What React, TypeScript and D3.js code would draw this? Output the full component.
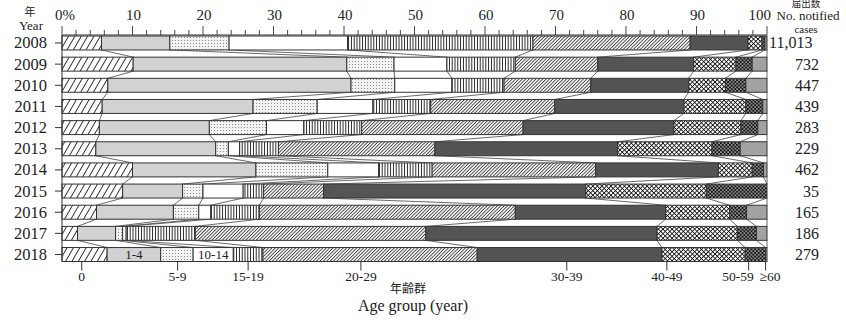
import * as d3 from 'd3';

// notified cases by age group, share (%) per year
const years = ['2008', '2009', '2010', '2011', '2012', '2013', '2014', '2015', '2016', '2017', '2018'];
const cases = ['11,013', '732', '447', '439', '283', '229', '462', '35', '165', '186', '279'];
const ageGroups = ['0', '1-4', '5-9', '10-14', '15-19', '20-29', '30-39', '40-49', '50-59', '≥60'];

const age0 = [5.6, 10.1, 6.5, 5.7, 5.3, 4.8, 10.0, 8.6, 4.9, 2.2, 6.4];
const age1to4 = [9.7, 30.3, 34.5, 21.4, 15.6, 17.0, 17.5, 8.5, 10.9, 5.4, 7.6];
const age5to9 = [8.4, 6.7, 6.2, 9.1, 8.1, 1.8, 10.2, 2.9, 3.6, 1.0, 4.6];
const age10to14 = [16.8, 7.5, 8.1, 7.9, 5.3, 1.6, 7.2, 5.7, 1.7, 0.5, 5.7];
const age15to19 = [26.3, 9.7, 7.4, 8.2, 8.2, 5.5, 7.6, 2.9, 6.9, 9.8, 4.2];
const age20to29 = [22.3, 11.7, 12.3, 17.6, 22.9, 22.2, 23.2, 8.5, 36.3, 32.7, 30.4];
const age30to39 = [8.2, 13.6, 13.9, 18.3, 21.4, 25.9, 17.4, 37.2, 21.3, 32.8, 26.2];
const age40to49 = [2.0, 6.0, 5.2, 8.8, 9.5, 13.4, 4.8, 17.1, 9.1, 11.4, 11.8];
const age50to59 = [0.4, 2.3, 2.9, 2.4, 2.4, 4.0, 1.6, 8.6, 2.4, 2.7, 2.9];
const age60plus = [0.3, 2.1, 3.0, 0.6, 1.3, 3.8, 0.5, 0, 2.9, 1.5, 0.2];

const series = [age0, age1to4, age5to9, age10to14, age15to19, age20to29, age30to39, age40to49, age50to59, age60plus];

// bottom axis: age group labels and where their ticks sit (%)
const groupTickLabels = ['0', '5-9', '15-19', '20-29', '30-39', '40-49', '50-59', '≥60'];
const groupTickValues = [2.8, 16.4, 26.4, 42.4, 71.6, 85.8, 97.4, 99.8];
// labels written inside the 2018 bar
const innerLabels = ['1-4', '10-14'];

const fills: Record<string, string> = {
  '0': 'url(#p0)',
  '1-4': '#d2d2d2',
  '5-9': 'url(#p5)',
  '10-14': '#ffffff',
  '15-19': 'url(#p15)',
  '20-29': 'url(#p20)',
  '30-39': '#545454',
  '40-49': 'url(#p40)',
  '50-59': 'url(#p50)',
  '≥60': '#a2a2a2',
};

const serif = "'Liberation Serif', 'DejaVu Serif', serif";
const jp = "'Noto Sans CJK JP', sans-serif";

export default function App() {
  const width = 846;
  const height = 320;

  const x = d3.scaleLinear().domain([0, 1]).range([62, 767]);
  const y = d3.scaleBand().domain(years).range([36, 261.5]).paddingInner(0.34).paddingOuter(0);
  const bw = y.bandwidth();

  const rows = years.map((yr, i) => {
    const r: Record<string, number | string> = { year: yr };
    ageGroups.forEach((g, k) => { r[g] = series[k][i]; });
    return r;
  });
  const stacked = d3.stack<any>().keys(ageGroups).offset(d3.stackOffsetExpand)(rows);

  const boundary = (k: number, i: number) => stacked[k][i][1];

  const lastYear = years[years.length - 1];
  const lastIdx = years.length - 1;
  const barBottom = (y(lastYear) as number) + bw;

  // the two last bottom labels are pushed apart so they do not collide
  const labelAnchor = (lab: string) => (lab === '50-59' ? 'end' : lab === '≥60' ? 'start' : 'middle');
  const labelShift = (lab: string) => (lab === '50-59' ? 5 : lab === '≥60' ? -6 : 0);

  return (
    <svg width={width} height={height} style={{ display: 'block', position: 'absolute', left: 0, top: 0 }}>
      <defs>
        <pattern id="p0" width="5.5" height="5.5" patternUnits="userSpaceOnUse" patternTransform="rotate(30)">
          <rect width="5.5" height="5.5" fill="#fff" />
          <line x1="0.5" y1="0" x2="0.5" y2="5.5" stroke="#222" strokeWidth="0.9" />
        </pattern>
        <pattern id="p5" width="3" height="3" patternUnits="userSpaceOnUse">
          <rect width="3" height="3" fill="#f3f3f3" />
          <circle cx="1.5" cy="1.5" r="0.55" fill="#777" />
        </pattern>
        <pattern id="p15" width="2.8" height="2.8" patternUnits="userSpaceOnUse">
          <rect width="2.8" height="2.8" fill="#fff" />
          <line x1="1.4" y1="0" x2="1.4" y2="2.8" stroke="#111" strokeWidth="0.9" />
        </pattern>
        <pattern id="p20" width="2.4" height="2.4" patternUnits="userSpaceOnUse" patternTransform="rotate(45)">
          <rect width="2.4" height="2.4" fill="#fff" />
          <line x1="0.5" y1="0" x2="0.5" y2="2.4" stroke="#222" strokeWidth="0.8" />
        </pattern>
        <pattern id="p40" width="3.2" height="3.2" patternUnits="userSpaceOnUse" patternTransform="rotate(45)">
          <rect width="3.2" height="3.2" fill="#fff" />
          <line x1="0.4" y1="0" x2="0.4" y2="3.2" stroke="#111" strokeWidth="0.9" />
          <line x1="0" y1="0.4" x2="3.2" y2="0.4" stroke="#111" strokeWidth="0.9" />
        </pattern>
        <pattern id="p50" width="3.6" height="3.6" patternUnits="userSpaceOnUse">
          <rect width="3.6" height="3.6" fill="#111" />
          <rect x="0.3" y="0.3" width="1.3" height="1.3" fill="#fff" />
          <rect x="2.1" y="2.1" width="1.3" height="1.3" fill="#fff" />
        </pattern>
      </defs>

      {/* connectors between consecutive bars */}
      <g stroke="#444" strokeWidth={0.8}>
        {ageGroups.map((g, k) =>
          years.slice(0, -1).map((yr, i) => (
            <line
              key={g + yr}
              x1={x(boundary(k, i))}
              y1={(y(yr) as number) + bw}
              x2={x(boundary(k, i + 1))}
              y2={y(years[i + 1]) as number}
            />
          ))
        )}
      </g>

      {/* stacked bars */}
      {stacked.map((s) => (
        <g key={s.key}>
          {s.map((d, i) =>
            d[1] - d[0] > 0 ? (
              <rect
                key={years[i]}
                x={x(d[0])}
                y={y(years[i])}
                width={x(d[1]) - x(d[0])}
                height={bw}
                fill={fills[s.key]}
                stroke="#333"
                strokeWidth={1}
              />
            ) : null
          )}
        </g>
      ))}

      {/* top axis */}
      <line x1={x(0)} x2={x(1)} y1={35} y2={35} stroke="#333" strokeWidth={1} />
      {d3.range(0, 101, 2).map((t) => (
        <line key={t} x1={x(t / 100)} x2={x(t / 100)} y1={35} y2={t % 10 === 0 ? 26 : 30} stroke="#333" strokeWidth={0.9} />
      ))}
      {d3.range(0, 101, 10).map((t) => (
        <text
          key={t}
          x={t === 0 ? x(0) - 7 : t === 100 ? x(1) + 4 : x(t / 100) + 1}
          y={20}
          fontSize={15}
          fontFamily={serif}
          textAnchor={t === 0 ? 'start' : t === 100 ? 'end' : 'middle'}
          fill="#222"
        >
          {t === 0 ? '0%' : t}
        </text>
      ))}

      {/* left axis */}
      <line x1={x(0)} x2={x(0)} y1={35} y2={barBottom} stroke="#333" strokeWidth={1} />
      {years.map((yr) => (
        <g key={yr}>
          <line x1={55} x2={x(0)} y1={(y(yr) as number) + bw / 2} y2={(y(yr) as number) + bw / 2} stroke="#333" />
          <text x={47} y={(y(yr) as number) + bw / 2 + 5.5} fontSize={16.5} fontFamily={serif} textAnchor="end" fill="#222">
            {yr}
          </text>
        </g>
      ))}
      <text x={30} y={16} fontSize={11} fontFamily={jp} textAnchor="middle" fill="#222">年</text>
      <text x={31} y={30} fontSize={13} fontFamily={serif} textAnchor="middle" fill="#222">Year</text>

      {/* right side: number of notified cases */}
      <text x={806} y={7} fontSize={9.5} fontFamily={jp} textAnchor="middle" fill="#222">届出数</text>
      <text x={808} y={20} fontSize={13} fontFamily={serif} textAnchor="middle" fill="#222">No. notified</text>
      <text x={806} y={32.5} fontSize={11} fontFamily={serif} textAnchor="middle" fill="#222">cases</text>
      {years.map((yr, i) => (
        <text
          key={yr}
          x={cases[i].length > 4 ? 769 : 819}
          y={(y(yr) as number) + bw / 2 + 5.5}
          fontSize={16}
          fontFamily={serif}
          textAnchor={cases[i].length > 4 ? 'start' : 'end'}
          fill="#222"
        >
          {cases[i]}
        </text>
      ))}

      {/* bottom age group ticks */}
      {groupTickLabels.map((lab, j) => (
        <g key={lab}>
          <line x1={x(groupTickValues[j] / 100)} x2={x(groupTickValues[j] / 100)} y1={barBottom} y2={barBottom + 9} stroke="#333" />
          <text
            x={x(groupTickValues[j] / 100) + labelShift(lab)}
            y={281}
            fontSize={13.5}
            fontFamily={serif}
            textAnchor={labelAnchor(lab)}
            fill="#222"
          >
            {lab}
          </text>
        </g>
      ))}
      {innerLabels.map((lab) => {
        const k = ageGroups.indexOf(lab);
        const d = stacked[k][lastIdx];
        return (
          <text key={lab} x={x((d[0] + d[1]) / 2)} y={(y(lastYear) as number) + bw / 2 + 4.5} fontSize={13} fontFamily={serif} textAnchor="middle" fill="#222">
            {lab}
          </text>
        );
      })}
      <text x={408} y={293} fontSize={12} fontFamily={jp} textAnchor="middle" fill="#222">年齢群</text>
      <text x={413} y={311} fontSize={16} fontFamily={serif} textAnchor="middle" fill="#222">Age group (year)</text>
    </svg>
  );
}
